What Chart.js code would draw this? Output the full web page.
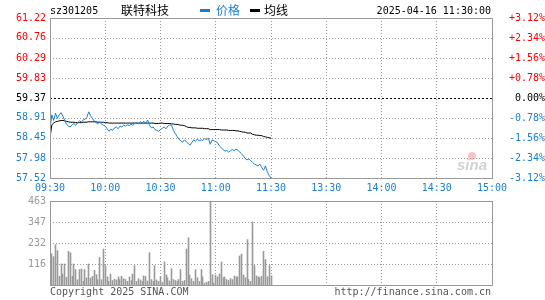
<!DOCTYPE html>
<html>
<head>
<meta charset="utf-8">
<script src="https://cdn.jsdelivr.net/npm/chart.js@4/dist/chart.umd.min.js"></script>
<style>
  body { margin: 0; background: #fff; }
  #wrap { position: relative; width: 545px; height: 300px; overflow: hidden; }
  canvas { position: absolute; left: 0; }
  #priceChart { top: 0; }
  #volChart { top: 191px; }
  .mono { position: absolute; font: 10px 'DejaVu Sans Mono', monospace; line-height: 12px; white-space: nowrap; }
  .cjk { position: absolute; font: 12px 'Noto Sans CJK SC', sans-serif; line-height: 14px; white-space: nowrap; }
  .bar { position: absolute; width: 10px; height: 3px; }
</style>
</head>
<body>
<div id="wrap">
  <canvas id="priceChart" width="545" height="195"></canvas>
  <canvas id="volChart" width="545" height="109"></canvas>

  <div class="mono" style="left:50px; top:5px; color:#000;">sz301205</div>
  <div class="cjk" style="left:121px; top:3px; color:#000;">联特科技</div>
  <div class="bar" style="left:200px; top:9px; background:#1a7fd0;"></div>
  <div class="cjk" style="left:216px; top:3px; color:#1a7fd0;">价格</div>
  <div class="bar" style="left:250px; top:9px; background:#000;"></div>
  <div class="cjk" style="left:264px; top:3px; color:#000;">均线</div>
  <div class="mono" style="right:54px; top:5px; color:#000;">2025-04-16 11:30:00</div>

  <div class="mono" style="left:50px; top:286px; color:#555;">Copyright 2025 SINA.COM</div>
  <div class="mono" style="right:54px; top:286px; color:#555;">http://finance.sina.com.cn</div>
</div>

<script>
// minute-by-minute data, 09:30 -> 11:30 (index = minutes since open)
const price = [
  58.65, 58.98, 58.85, 59.02, 58.90, 58.98, 59.03, 58.95, 58.85, 58.76,
  58.72, 58.70, 58.75, 58.78, 58.74, 58.80, 58.84, 58.82, 58.86, 58.88,
  58.92, 59.05, 58.96, 58.90, 58.84, 58.80, 58.78, 58.81, 58.77, 58.74,
  58.72, 58.66, 58.60, 58.65, 58.62, 58.68, 58.70, 58.66, 58.72, 58.70,
  58.74, 58.72, 58.75, 58.73, 58.76, 58.74, 58.78, 58.80, 58.77, 58.82,
  58.79, 58.83, 58.78, 58.86, 58.74, 58.68, 58.70, 58.64, 58.62, 58.60,
  58.64, 58.67, 58.70, 58.66, 58.72, 58.75, 58.74, 58.62, 58.55, 58.48,
  58.42, 58.38, 58.35, 58.40, 58.36, 58.32, 58.28, 58.34, 58.40, 58.37,
  58.42, 58.38, 58.40, 58.39, 58.43, 58.41, 58.44, 58.30, 58.40, 58.38,
  58.36, 58.34, 58.26, 58.22, 58.18, 58.14, 58.16, 58.12, 58.15, 58.18,
  58.15, 58.19, 58.16, 58.12, 58.08, 58.03, 57.97, 57.94, 57.96, 57.92,
  57.88, 57.84, 57.82, 57.80, 57.84, 57.76, 57.70, 57.80, 57.66, 57.58,
  57.52
];

const avgPrice = [
  58.45, 58.75, 58.79, 58.82, 58.83, 58.84, 58.85, 58.85, 58.84, 58.83,
  58.82, 58.81, 58.81, 58.81, 58.80, 58.80, 58.80, 58.80, 58.81, 58.81,
  58.81, 58.82, 58.82, 58.82, 58.82, 58.82, 58.81, 58.81, 58.81, 58.81,
  58.80, 58.80, 58.79, 58.79, 58.79, 58.79, 58.79, 58.79, 58.79, 58.79,
  58.79, 58.79, 58.79, 58.79, 58.79, 58.79, 58.79, 58.79, 58.79, 58.79,
  58.79, 58.79, 58.79, 58.79, 58.79, 58.79, 58.79, 58.78, 58.78, 58.78,
  58.79, 58.79, 58.78, 58.78, 58.78, 58.78, 58.77, 58.77, 58.76, 58.76,
  58.75, 58.74, 58.74, 58.73, 58.71, 58.69, 58.69, 58.68, 58.68, 58.68,
  58.67, 58.67, 58.67, 58.67, 58.66, 58.66, 58.66, 58.64, 58.64, 58.64,
  58.64, 58.64, 58.64, 58.63, 58.63, 58.63, 58.63, 58.62, 58.62, 58.62,
  58.62, 58.61, 58.61, 58.60, 58.59, 58.58, 58.58, 58.56, 58.56, 58.56,
  58.53, 58.52, 58.51, 58.51, 58.50, 58.50, 58.48, 58.47, 58.46, 58.45,
  58.44
];

const volume = [
   57, 173, 156, 222, 189,  48, 116,  60, 116,  42,
  186, 178,  48, 116,  85,  29,  85,  88,  20,  85,
   40, 116,  39,  48,  81,  57,  29, 152,  29, 198,
  107,  45,  20,  60,  25,  32,  28,  45,  30,  48,
   35,  30,  20,  45,  25,  60, 107,  20,  35,  28,
   20,  50,  48,  22, 178,  30,  20, 107,  28,  20,
   45,  15, 127,  55,  40,  22,  90,  30,  25,  20,
   30,  85,  20,  25, 198, 260,  55,  35,  20,  85,
   40,  20,  85,  45,  10,  15,  20, 463,  57,  10,
   55,  45,  60, 127,  40,  45,  30,  25,  35,  30,
   50,  45,  45, 160, 170,  55,  40, 250,  30,  20,
  347, 107,  50,  45,  40,  48, 186, 140,  45, 107,
   51
];

// axis ticks
const timeTicks = [0, 30, 60, 90, 120, 150, 180, 210, 240];
const timeLabels = ['09:30', '10:00', '10:30', '11:00', '11:30', '13:30', '14:00', '14:30', '15:00'];
const priceTicks = [57.52, 57.98, 58.45, 58.91, 59.37, 59.83, 60.29, 60.76, 61.22];
const pctTicks = [-3.12, -2.34, -1.56, -0.78, 0, 0.78, 1.56, 2.34, 3.12];
const pctLabels = ['-3.12%', '-2.34%', '-1.56%', '-0.78%', '0.00%', '+0.78%', '+1.56%', '+2.34%', '+3.12%'];
const volTicks = [0, 116, 232, 347, 463];
const prevClose = 59.37;

const MONO = "'DejaVu Sans Mono', monospace";
const BLUE = '#1a7fd0';
const RED = '#ff0000';
const GRID = '#9a9a9a';
const BOX = '#999999';

function sameVal(a, b) { return Math.abs(a - b) < 0.001; }

// draws the grey frame round the plot area
const framePlugin = {
  id: 'frame',
  afterDraw(chart) {
    const { ctx, chartArea: a } = chart;
    ctx.save();
    ctx.strokeStyle = BOX;
    ctx.lineWidth = 1;
    ctx.strokeRect(a.left + 0.5, a.top + 0.5, a.right - a.left, a.bottom - a.top);
    ctx.restore();
  }
};

// dotted horizontal grid at the y scale ticks, painted as 1px dots
// (prev close gets a black dash instead)
const hGrid = {
  id: 'hGrid',
  beforeDatasetsDraw(chart) {
    const { ctx, chartArea: a } = chart;
    const ys = chart.scales.y;
    ctx.save();
    ys.ticks.forEach(t => {
      const y = Math.round(ys.getPixelForValue(t.value));
      const isClose = chart.config.type === 'line' && sameVal(t.value, prevClose);
      ctx.fillStyle = isClose ? '#000' : GRID;
      const step = isClose ? 4 : 3;
      const len = isClose ? 2 : 1;
      for (let x = Math.round(a.left); x < a.right; x += step) {
        ctx.fillRect(x, y, len, 1);
      }
    });
    ctx.restore();
  }
};

// sina watermark
const watermark = {
  id: 'watermark',
  beforeDatasetsDraw(chart) {
    const ctx = chart.ctx;
    ctx.save();
    ctx.fillStyle = 'rgba(235,150,150,0.55)';
    ctx.beginPath();
    ctx.arc(472, 156, 4, 0, Math.PI * 2);
    ctx.fill();
    ctx.fillStyle = '#d2d2d2';
    ctx.font = "italic bold 15px 'Liberation Sans', sans-serif";
    ctx.fillText('sina', 457, 170);
    ctx.restore();
  }
};

// snap the 1px volume bars onto whole pixels so they stay crisp
const snapBars = {
  id: 'snapBars',
  beforeDatasetsDraw(chart) {
    chart.getDatasetMeta(0).data.forEach(el => {
      el.x = Math.round(el.x - 0.5) + 0.5;
    });
  }
};

new Chart(document.getElementById('priceChart').getContext('2d'), {
  type: 'line',
  data: {
    datasets: [
      {
        label: '价格',
        data: price.map((v, i) => ({ x: i, y: v })),
        borderColor: BLUE,
        borderWidth: 1,
        yAxisID: 'y'
      },
      {
        label: '均线',
        data: avgPrice.map((v, i) => ({ x: i, y: v })),
        borderColor: '#000',
        borderWidth: 1,
        yAxisID: 'y'
      }
    ]
  },
  options: {
    responsive: false,
    animation: false,
    layout: { autoPadding: false, padding: { top: 18, left: 0, right: 0, bottom: 0 } },
    plugins: { legend: { display: false }, tooltip: { enabled: false } },
    elements: { point: { radius: 0 }, line: { tension: 0 } },
    scales: {
      x: {
        type: 'linear', min: 0, max: 240,
        afterBuildTicks: s => { s.ticks = timeTicks.map(v => ({ value: v })); },
        afterFit: s => { s.height = 17; },
        grid: { color: GRID, drawTicks: false },
        border: { display: false, dash: [1, 2] },
        ticks: {
          color: BLUE, padding: 4, maxRotation: 0, autoSkip: false,
          font: { family: MONO, size: 10 },
          callback: v => timeLabels[timeTicks.indexOf(v)]
        }
      },
      y: {
        position: 'left', min: priceTicks[0], max: priceTicks[priceTicks.length - 1],
        afterBuildTicks: s => { s.ticks = priceTicks.map(v => ({ value: v })); },
        afterFit: s => { s.width = 50; },
        grid: { display: false, drawTicks: false },
        border: { display: false },
        ticks: {
          padding: 4,
          font: { family: MONO, size: 10 },
          color: c => sameVal(c.tick.value, prevClose) ? '#000' : (c.tick.value > prevClose ? RED : BLUE),
          callback: v => v.toFixed(2)
        }
      },
      yr: {
        position: 'right', min: -3.12, max: 3.12,
        afterBuildTicks: s => { s.ticks = pctTicks.map(v => ({ value: v })); },
        afterFit: s => { s.width = 53; },
        grid: { display: false, drawTicks: false },
        border: { display: false },
        ticks: {
          padding: 3, crossAlign: 'far',
          font: { family: MONO, size: 10 },
          color: c => sameVal(c.tick.value, 0) ? '#000' : (c.tick.value > 0 ? RED : BLUE),
          callback: v => pctLabels[pctTicks.findIndex(p => sameVal(p, v))]
        }
      }
    }
  },
  plugins: [hGrid, watermark, framePlugin]
});

// volume panel
new Chart(document.getElementById('volChart').getContext('2d'), {
  type: 'bar',
  data: {
    datasets: [{
      label: '成交量',
      data: volume.map((v, i) => ({ x: i, y: v })),
      backgroundColor: '#9a9a9a',
      barThickness: 1
    }]
  },
  options: {
    responsive: false,
    animation: false,
    layout: { autoPadding: false, padding: { top: 6, left: 0, right: 53, bottom: 15 } },
    plugins: { legend: { display: false }, tooltip: { enabled: false } },
    scales: {
      x: {
        type: 'linear', min: 0, max: 240, offset: false,
        afterBuildTicks: s => { s.ticks = timeTicks.map(v => ({ value: v })); },
        afterFit: s => { s.height = 0; },
        grid: { color: GRID, drawTicks: false, offset: false },
        border: { display: false, dash: [1, 2] },
        ticks: { display: false }
      },
      y: {
        position: 'left', min: 0, max: 463,
        afterBuildTicks: s => { s.ticks = volTicks.map(v => ({ value: v })); },
        afterFit: s => { s.width = 50; },
        grid: { display: false, drawTicks: false },
        border: { display: false },
        ticks: {
          padding: 4, color: '#999',
          font: { family: MONO, size: 10 },
          callback: v => v === 0 ? '' : String(v)
        }
      }
    }
  },
  plugins: [hGrid, snapBars, framePlugin]
});
</script>
</body>
</html>
